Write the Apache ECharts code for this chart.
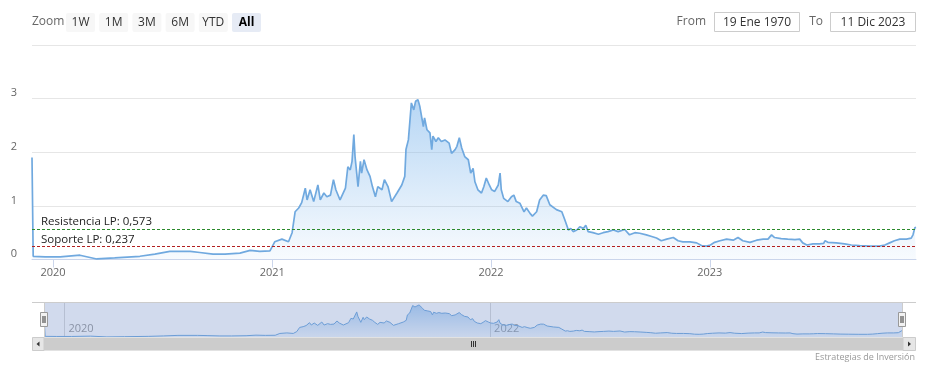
<!DOCTYPE html>
<html><head><meta charset="utf-8">
<script src="https://cdn.jsdelivr.net/npm/echarts@6/dist/echarts.min.js"></script>
<style>html,body{margin:0;padding:0;background:#fff}#c{width:929px;height:370px}</style>
</head><body><div id="c"></div>
<script>
const dates = [
'2019-11-27','2019-11-29','2019-12-19','2020-01-13','2020-02-15','2020-03-14','2020-04-13','2020-05-25','2020-06-19','2020-07-14',
'2020-08-17','2020-09-02','2020-09-24','2020-10-14','2020-11-08','2020-11-25','2020-12-11','2020-12-28','2021-01-05','2021-01-17',
'2021-01-28','2021-02-03','2021-02-08','2021-02-14','2021-02-19','2021-02-25','2021-02-28','2021-03-05','2021-03-11','2021-03-18',
'2021-03-22','2021-03-28','2021-04-02','2021-04-08','2021-04-13','2021-04-17','2021-04-24','2021-05-03','2021-05-07','2021-05-11',
'2021-05-14','2021-05-17','2021-05-19','2021-05-24','2021-05-28','2021-05-30','2021-06-03','2021-06-08','2021-06-13','2021-06-17',
'2021-06-22','2021-06-26','2021-07-03','2021-07-07','2021-07-13','2021-07-19','2021-07-28','2021-08-05','2021-08-10','2021-08-12',
'2021-08-16','2021-08-21','2021-08-25','2021-08-28','2021-09-01','2021-09-04','2021-09-07','2021-09-10','2021-09-12','2021-09-16',
'2021-09-21','2021-09-24','2021-09-26','2021-10-01','2021-10-05','2021-10-10','2021-10-16','2021-10-23','2021-10-27','2021-11-02',
'2021-11-05','2021-11-09','2021-11-13','2021-11-18','2021-11-24','2021-11-28','2021-12-02','2021-12-05','2021-12-10','2021-12-16',
'2021-12-20','2021-12-24','2021-12-29','2022-01-02','2022-01-07','2022-01-13','2022-01-16','2022-01-18','2022-01-22','2022-01-29',
'2022-02-04','2022-02-08','2022-02-12','2022-02-18','2022-02-25','2022-03-01','2022-03-07','2022-03-11','2022-03-18','2022-03-23',
'2022-03-29','2022-04-03','2022-04-09','2022-04-20','2022-04-29','2022-05-04','2022-05-10','2022-05-14','2022-05-18','2022-05-24',
'2022-05-29','2022-06-04','2022-06-08','2022-06-12','2022-06-20','2022-06-29','2022-07-07','2022-07-15','2022-07-24','2022-08-01',
'2022-08-12','2022-08-20','2022-08-29','2022-09-06','2022-09-17','2022-09-26','2022-10-04','2022-10-12','2022-10-21','2022-11-01',
'2022-11-09','2022-11-17','2022-11-29','2022-12-10','2022-12-18','2022-12-26','2023-01-02','2023-01-09','2023-01-18','2023-01-29',
'2023-02-09','2023-02-17','2023-02-25','2023-03-09','2023-03-20','2023-03-31','2023-04-08','2023-04-14','2023-04-19','2023-04-30',
'2023-05-11','2023-05-23','2023-05-31','2023-06-05','2023-06-12','2023-06-22','2023-07-03','2023-07-10','2023-07-12','2023-07-17',
'2023-07-31','2023-08-14','2023-08-25','2023-09-08','2023-09-25','2023-10-11','2023-10-20','2023-10-28','2023-11-05','2023-11-14',
'2023-11-25','2023-12-03','2023-12-06','2023-12-09','2023-12-11'
];
const values = [
1.90,0.06,0.05,0.05,0.08,0.01,0.03,0.06,0.10,0.15,
0.15,0.13,0.10,0.10,0.12,0.17,0.15,0.16,0.33,0.38,
0.33,0.50,0.89,0.96,1.06,1.33,1.11,1.30,1.08,1.39,
1.11,1.24,1.17,1.20,1.49,1.30,1.11,1.33,1.73,1.67,
1.83,2.33,1.92,1.36,1.83,1.61,1.86,1.67,1.55,1.36,
1.17,1.36,1.30,1.49,1.36,1.08,1.24,1.39,1.55,2.05,
2.23,2.92,2.79,2.95,2.98,2.86,2.67,2.48,2.64,2.42,
2.36,2.05,2.30,2.20,2.27,2.20,2.23,2.17,1.98,2.05,
2.11,2.27,2.08,1.92,1.86,1.61,1.70,1.45,1.30,1.24,
1.36,1.52,1.39,1.30,1.27,1.39,1.61,1.30,1.14,1.08,
1.17,1.20,1.08,1.05,0.89,0.96,0.86,0.81,0.89,1.11,
1.20,1.19,1.02,0.93,0.89,0.74,0.55,0.58,0.52,0.55,
0.61,0.58,0.64,0.52,0.50,0.47,0.50,0.52,0.55,0.52,
0.56,0.46,0.50,0.49,0.46,0.43,0.40,0.35,0.38,0.41,
0.35,0.33,0.33,0.31,0.26,0.25,0.27,0.32,0.35,0.38,
0.36,0.41,0.35,0.32,0.36,0.38,0.38,0.46,0.41,0.39,
0.38,0.37,0.38,0.31,0.27,0.29,0.29,0.30,0.35,0.32,
0.31,0.29,0.27,0.26,0.25,0.25,0.27,0.31,0.35,0.38,
0.38,0.40,0.46,0.59,0.60
];
const yMax = 4;
const xYearTicks = ['2020-01-01','2021-01-01','2022-01-01','2023-01-01'];
const navYearTicks = ['2020-01-01','2022-01-01'];
const rangeStart = '2019-11-27';
const rangeEnd = '2023-12-11';
const resistencia = 0.573;
const soporte = 0.237;
const zoomButtons = ['1W','1M','3M','6M','YTD','All'];
const fromText = '19 Ene 1970';
const toText = '11 Dic 2023';
const creditText = 'Estrategias de Inversión';

const FONT = "'Open Sans', 'DejaVu Sans', sans-serif";
const ts = s => new Date(s + 'T00:00:00').getTime();
const yearFmt = v => String(new Date(v).getFullYear());
const fmtNum = v => String(v).replace('.', ',');
const seriesData = dates.map((d, i) => [ts(d), values[i]]);

const grad = (a, b) => new echarts.graphic.LinearGradient(0, 0, 0, 1, [
  { offset: 0, color: 'rgba(124,181,236,' + a + ')' },
  { offset: 1, color: 'rgba(124,181,236,' + b + ')' }
]);

const graphics = [];
graphics.push({ type: 'text', style: { x: 32, y: 22, text: 'Zoom', fill: '#666', font: '12px ' + FONT, textVerticalAlign: 'middle' } });
zoomButtons.forEach((b, i) => {
  const x = 66 + i * 33.2;
  const sel = b === 'All';
  graphics.push({ type: 'rect', shape: { x: x, y: 13, width: 29, height: 19, r: 2 }, style: { fill: sel ? '#e6ebf5' : '#f7f7f7' } });
  graphics.push({ type: 'text', style: { x: x + 14.5, y: 22.5, text: b, fill: sel ? '#000' : '#333', font: (sel ? 'bold ' : '') + '12px ' + FONT, textAlign: 'center', textVerticalAlign: 'middle' } });
});
graphics.push({ type: 'text', style: { x: 706, y: 22, text: 'From', fill: '#666', font: '12px ' + FONT, textAlign: 'right', textVerticalAlign: 'middle' } });
graphics.push({ type: 'rect', shape: { x: 714.5, y: 12.5, width: 85, height: 19 }, style: { fill: '#fff', stroke: '#cccccc', lineWidth: 1 } });
graphics.push({ type: 'text', style: { x: 757, y: 22.5, text: fromText, fill: '#333', font: '12px ' + FONT, textAlign: 'center', textVerticalAlign: 'middle' } });
graphics.push({ type: 'text', style: { x: 823, y: 22, text: 'To', fill: '#666', font: '12px ' + FONT, textAlign: 'right', textVerticalAlign: 'middle' } });
graphics.push({ type: 'rect', shape: { x: 830.5, y: 12.5, width: 85, height: 19 }, style: { fill: '#fff', stroke: '#cccccc', lineWidth: 1 } });
graphics.push({ type: 'text', style: { x: 873, y: 22.5, text: toText, fill: '#333', font: '12px ' + FONT, textAlign: 'center', textVerticalAlign: 'middle' } });

// navigator mask, outline, handles
graphics.push({ type: 'rect', z: 10, shape: { x: 44, y: 302, width: 859, height: 35 }, style: { fill: 'rgba(102,133,194,0.3)' } });
graphics.push({ type: 'polyline', z: 11, shape: { points: [[32, 302.5], [916, 302.5]] }, style: { stroke: '#cccccc', lineWidth: 1 } });
graphics.push({ type: 'polyline', z: 11, shape: { points: [[44.5, 302.5], [44.5, 337]] }, style: { stroke: '#cccccc', lineWidth: 1 } });
graphics.push({ type: 'polyline', z: 11, shape: { points: [[902.5, 302.5], [902.5, 337]] }, style: { stroke: '#cccccc', lineWidth: 1 } });
[44, 902].forEach(cx => {
  graphics.push({ type: 'rect', z: 12, shape: { x: cx - 3.5, y: 312.5, width: 7, height: 14 }, style: { fill: '#f2f2f2', stroke: '#999999', lineWidth: 1 } });
  graphics.push({ type: 'polyline', z: 13, shape: { points: [[cx - 1, 316], [cx - 1, 323]] }, style: { stroke: '#333', lineWidth: 1 } });
  graphics.push({ type: 'polyline', z: 13, shape: { points: [[cx + 1, 316], [cx + 1, 323]] }, style: { stroke: '#333', lineWidth: 1 } });
});
// scrollbar
graphics.push({ type: 'rect', z: 10, shape: { x: 32, y: 337.5, width: 884, height: 13 }, style: { fill: '#f2f2f2' } });
graphics.push({ type: 'rect', z: 11, shape: { x: 44, y: 337.5, width: 859, height: 13 }, style: { fill: '#cccccc' } });
[471, 473, 475].forEach(gx => graphics.push({ type: 'polyline', z: 12, shape: { points: [[gx + 0.5, 341], [gx + 0.5, 347]] }, style: { stroke: '#333', lineWidth: 1 } }));
graphics.push({ type: 'rect', z: 11, shape: { x: 32.5, y: 337.5, width: 11.5, height: 13 }, style: { fill: '#e6e6e6', stroke: '#cccccc', lineWidth: 1 } });
graphics.push({ type: 'polygon', z: 12, shape: { points: [[39.5, 341.5], [39.5, 346.5], [36.5, 344]] }, style: { fill: '#333' } });
graphics.push({ type: 'rect', z: 11, shape: { x: 903, y: 337.5, width: 12.5, height: 13 }, style: { fill: '#e6e6e6', stroke: '#cccccc', lineWidth: 1 } });
graphics.push({ type: 'polygon', z: 12, shape: { points: [[908, 341.5], [908, 346.5], [911, 344]] }, style: { fill: '#333' } });
graphics.push({ type: 'text', style: { x: 915, y: 357, text: creditText, fill: '#999', font: '9px ' + FONT, textAlign: 'right', textVerticalAlign: 'middle' } });

const chart = echarts.init(document.getElementById('c'), null, { renderer: 'canvas' });
chart.setOption({
  animation: false,
  backgroundColor: '#fff',
  textStyle: { fontFamily: FONT },
  grid: [
    { left: 32, right: 13, top: 45, bottom: 110.5 },
    { left: 44, right: 26, top: 302, height: 35 }
  ],
  xAxis: [
    {
      type: 'value', gridIndex: 0, min: ts(rangeStart), max: ts(rangeEnd),
      axisLine: { lineStyle: { color: '#ccd6eb' } },
      axisTick: { show: true, length: 8, lineStyle: { color: '#ccd6eb' }, customValues: xYearTicks.map(ts) },
      axisLabel: { color: '#666', fontSize: 11, margin: 8, customValues: xYearTicks.map(ts), formatter: yearFmt, showMinLabel: true, showMaxLabel: true },
      splitLine: { show: false }
    },
    {
      type: 'value', gridIndex: 1, min: ts(rangeStart), max: ts(rangeEnd),
      axisLine: { show: false },
      axisTick: { show: true, inside: true, length: 35, lineStyle: { color: '#d8d8d8' }, customValues: navYearTicks.map(ts) },
      axisLabel: { inside: true, align: 'left', padding: [0, 0, 0, 4], margin: 3, color: '#999', fontSize: 11, customValues: navYearTicks.map(ts), formatter: yearFmt },
      splitLine: { show: false }
    }
  ],
  yAxis: [
    {
      type: 'value', gridIndex: 0, min: 0, max: yMax, interval: 1,
      axisLine: { show: false }, axisTick: { show: false },
      axisLabel: { color: '#666', fontSize: 11, margin: 15, verticalAlign: 'bottom', formatter: v => v === yMax ? '' : String(v) },
      splitLine: { lineStyle: { color: '#e6e6e6' } }
    },
    { type: 'value', gridIndex: 1, min: 0, max: 3.25, show: false, splitLine: { show: false } }
  ],
  graphic: graphics,
  series: [
    {
      type: 'line', xAxisIndex: 0, yAxisIndex: 0, data: seriesData,
      showSymbol: false, symbol: 'none',
      lineStyle: { color: '#70a9df', width: 1.7 },
      itemStyle: { color: '#70a9df' },
      areaStyle: { color: grad(0.78, 0.08) },
      markLine: {
        silent: true, symbol: 'none',
        data: [
          { yAxis: resistencia, lineStyle: { color: '#2c8a2c', type: [3, 2], width: 1 },
            label: { formatter: 'Resistencia LP: ' + fmtNum(resistencia) } },
          { yAxis: soporte, lineStyle: { color: '#b32020', type: [3, 2], width: 1 },
            label: { formatter: 'Soporte LP: ' + fmtNum(soporte) } }
        ],
        label: { position: 'insideStartTop', color: '#222', fontSize: 11.5, distance: [9, 1] }
      }
    },
    {
      type: 'line', xAxisIndex: 1, yAxisIndex: 1, data: seriesData,
      showSymbol: false, symbol: 'none',
      lineStyle: { color: '#6fa8de', width: 1 },
      areaStyle: { color: grad(0.85, 0.12) }
    }
  ]
});
</script></body></html>
